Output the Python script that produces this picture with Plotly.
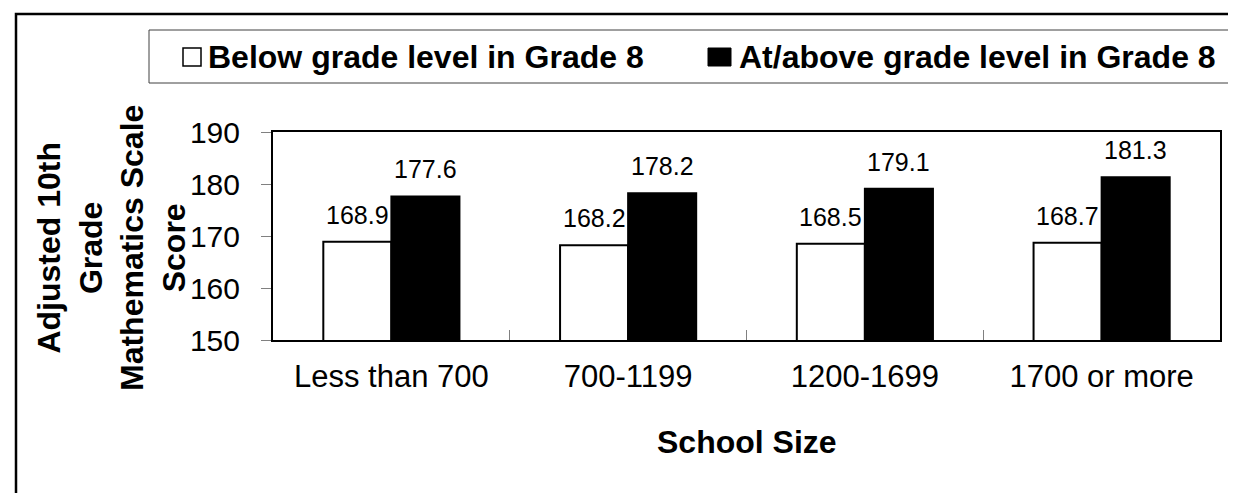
import plotly.graph_objects as go

categories = ["Less than 700", "700-1199", "1200-1699", "1700 or more"]
below_values = [168.9, 168.2, 168.5, 168.7]
above_values = [177.6, 178.2, 179.1, 181.3]
series_names = ["Below grade level in Grade 8", "At/above grade level in Grade 8"]
y_ticks = [150, 160, 170, 180, 190]
y_title = "Adjusted 10th<br>Grade<br>Mathematics Scale<br>Score"
x_title = "School Size"

W, H = 1236, 493
ML, MR, MT, MB = 265, 24, 124, 161
PW, PH = W - ML - MR, H - MT - MB
BARGAP = 0.425
BAR_PX = PW / len(categories) * (1 - BARGAP) / 2

def px(x):
    return (x - ML) / PW

def py(y):
    return (H - MB - y) / PH

FONT = "Liberation Sans, Arial, sans-serif"

fig = go.Figure()
fig.add_trace(go.Bar(
    x=categories, y=below_values, name=series_names[0],
    marker=dict(color="white", line=dict(color="black", width=2)),
    showlegend=False,
))
fig.add_trace(go.Bar(
    x=categories, y=above_values, name=series_names[1],
    marker=dict(color="black", line=dict(color="black", width=2)),
    showlegend=False,
))

fig.update_layout(
    width=W, height=H,
    margin=dict(l=ML, r=MR, t=MT, b=MB, autoexpand=False),
    paper_bgcolor="white", plot_bgcolor="white",
    barmode="group", bargap=BARGAP, bargroupgap=0,
    showlegend=False,
    font=dict(family=FONT, color="black"),
)
fig.update_xaxes(
    showline=True, linecolor="black", linewidth=2, mirror=True,
    ticks="inside", tickson="boundaries", ticklen=10, tickcolor="#808080", tickwidth=1,
    tickfont=dict(family=FONT, size=31, color="black"),
    ticklabelstandoff=8, showgrid=False,
)
fig.update_yaxes(
    range=[150, 190], tickvals=y_ticks,
    showline=True, linecolor="black", linewidth=2, mirror=True,
    ticks="outside", ticklen=10, tickcolor="#808080", tickwidth=1,
    tickfont=dict(family=FONT, size=30, color="black"),
    ticklabelstandoff=15, showgrid=False, zeroline=False,
)

shapes = []
# outer frame (extends beyond the visible crop on right/bottom)
shapes.append(dict(type="rect", xref="paper", yref="paper",
                   x0=px(8), x1=px(1260), y0=py(520), y1=py(6),
                   line=dict(color="black", width=2.5), fillcolor="rgba(0,0,0,0)"))
# legend box
shapes.append(dict(type="rect", xref="paper", yref="paper",
                   x0=px(141), x1=px(1232), y0=py(75), y1=py(22),
                   line=dict(color="#404040", width=1), fillcolor="white", layer="below"))
# legend symbols
shapes.append(dict(type="rect", xref="paper", yref="paper",
                   x0=px(175), x1=px(193), y0=py(58), y1=py(40),
                   line=dict(color="black", width=1.5), fillcolor="white"))
shapes.append(dict(type="rect", xref="paper", yref="paper",
                   x0=px(700), x1=px(723), y0=py(58), y1=py(40),
                   line=dict(color="black", width=1), fillcolor="black"))

annotations = [
    dict(text="<b>" + series_names[0] + "</b>", xref="paper", yref="paper",
         x=px(198), y=py(49), xanchor="left", yanchor="middle", showarrow=False,
         font=dict(family=FONT, size=32, color="black")),
    dict(text="<b>" + series_names[1] + "</b>", xref="paper", yref="paper",
         x=px(729), y=py(49), xanchor="left", yanchor="middle", showarrow=False,
         font=dict(family=FONT, size=32, color="black")),
    dict(text="<b>" + y_title + "</b>", xref="paper", yref="paper",
         x=px(103), y=py(240), xanchor="center", yanchor="middle", showarrow=False,
         textangle=-90, font=dict(family=FONT, size=32, color="black")),
    dict(text="<b>" + x_title + "</b>", xref="paper", yref="paper",
         x=px(739), y=py(434), xanchor="center", yanchor="middle", showarrow=False,
         font=dict(family=FONT, size=32, color="black")),
]
# data labels above each bar
for vals, sign in ((below_values, -1), (above_values, 1)):
    for cat, v in zip(categories, vals):
        annotations.append(dict(
            text=f"{v:.1f}", x=cat, y=v, xref="x", yref="y",
            xshift=sign * BAR_PX / 2, yshift=11, xanchor="center", yanchor="bottom",
            showarrow=False, font=dict(family=FONT, size=25, color="black"),
        ))
fig.update_layout(shapes=shapes, annotations=annotations)

fig.write_html("out.html")
